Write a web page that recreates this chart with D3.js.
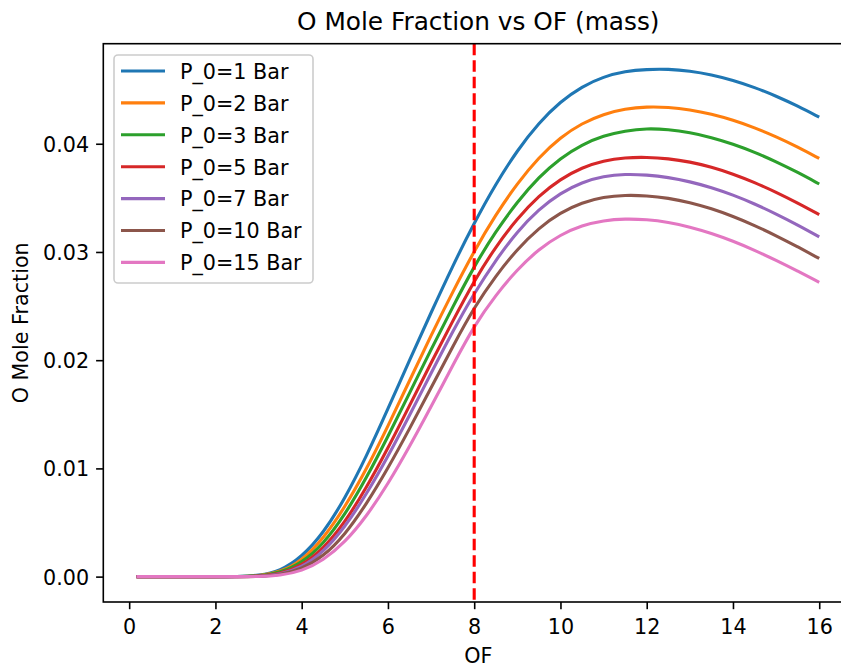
<!DOCTYPE html>
<html>
<head>
<meta charset="utf-8">
<script src="https://cdn.jsdelivr.net/npm/d3@7"></script>
<style>
  html, body { margin: 0; padding: 0; background: #ffffff; }
  svg { display: block; font-family: "DejaVu Sans", sans-serif; }
</style>
</head>
<body>
<div id="chart"></div>
<script>
// ---- data ----
const ofValues = [0.17, 1, 2, 2.5, 3, 3.5, 4, 4.5, 5, 5.5, 6, 6.5, 7, 7.5, 8, 8.5, 9, 9.5, 10, 10.5, 11, 11.5, 12, 12.5, 13, 13.5, 14, 14.5, 15, 15.5, 16];
const seriesNames = ["P_0=1 Bar", "P_0=2 Bar", "P_0=3 Bar", "P_0=5 Bar", "P_0=7 Bar", "P_0=10 Bar", "P_0=15 Bar"];
const p1  = [0, 0, 0, 0, 0.0001, 0.0005, 0.0018, 0.0040, 0.0072, 0.0111, 0.0155, 0.0200, 0.0244, 0.0287, 0.0327, 0.0363, 0.0394, 0.04195, 0.0439, 0.0453, 0.0462, 0.0467, 0.04688, 0.0469, 0.04673, 0.04638, 0.04587, 0.04521, 0.04441, 0.04349, 0.04245];
const p2  = [0, 0, 0, 0, 0.00004, 0.0004, 0.00145, 0.0035, 0.0064, 0.0099, 0.0139, 0.0181, 0.0223, 0.0263, 0.0301, 0.03345, 0.03635, 0.03875, 0.0406, 0.0419, 0.04275, 0.04323, 0.04343, 0.04338, 0.04315, 0.04275, 0.04219, 0.04149, 0.04066, 0.03971, 0.03864];
const p3  = [0, 0, 0, 0, 0.00004, 0.00035, 0.00125, 0.0030, 0.0057, 0.0091, 0.01295, 0.01695, 0.0210, 0.0249, 0.0287, 0.0319, 0.03465, 0.03693, 0.03868, 0.03993, 0.04075, 0.0412, 0.04142, 0.04132, 0.04104, 0.04059, 0.03998, 0.03923, 0.03835, 0.03736, 0.03628];
const p5  = [0, 0, 0, 0, 0.00002, 0.00023, 0.00101, 0.00257, 0.0050, 0.0082, 0.01185, 0.0158, 0.01975, 0.0236, 0.02735, 0.0305, 0.0331, 0.0352, 0.03674, 0.03781, 0.03844, 0.03872, 0.03876, 0.03863, 0.03833, 0.03785, 0.03721, 0.03643, 0.03553, 0.03453, 0.03345];
const p7  = [0, 0, 0, 0, 0.00001, 0.00019, 0.00085, 0.00226, 0.00455, 0.0076, 0.0111, 0.0149, 0.0188, 0.02265, 0.0262, 0.02925, 0.0319, 0.03395, 0.03545, 0.03645, 0.037, 0.0372, 0.03712, 0.0369, 0.0365, 0.03596, 0.03527, 0.03445, 0.03352, 0.0325, 0.0314];
const p10 = [0, 0, 0, 0, 0.00001, 0.00014, 0.0007, 0.00185, 0.00385, 0.0067, 0.0100, 0.01365, 0.01745, 0.02125, 0.0249, 0.0278, 0.03027, 0.03223, 0.03364, 0.03457, 0.03508, 0.03526, 0.0352, 0.03498, 0.03458, 0.03401, 0.0333, 0.03246, 0.03151, 0.03048, 0.0294];
const p15 = [0, 0, 0, 0, 0, 0.0001, 0.0005, 0.0015, 0.00315, 0.00555, 0.00855, 0.0120, 0.0157, 0.0195, 0.0232, 0.02602, 0.02839, 0.03027, 0.0316, 0.03246, 0.03292, 0.03307, 0.033, 0.03275, 0.03232, 0.03173, 0.03101, 0.03017, 0.02923, 0.02823, 0.0272];
const seriesValues = [p1, p2, p3, p5, p7, p10, p15];
const colors = ["#1f77b4", "#ff7f0e", "#2ca02c", "#d62728", "#9467bd", "#8c564b", "#e377c2"];
const xTicks = [0, 2, 4, 6, 8, 10, 12, 14, 16];
const yTicks = [0.00, 0.01, 0.02, 0.03, 0.04];
const markerOF = 8;
const titleText = "O Mole Fraction vs OF (mass)";
const xLabel = "OF";
const yLabel = "O Mole Fraction";

// ---- layout ----
const W = 841, H = 666;
const axLeft = 103.3, axRight = 853.3, axTop = 43.7, axBottom = 602;
const fs = 20.7, titleFs = 24.8;

const svg = d3.select("#chart").append("svg").attr("width", W).attr("height", H);
svg.append("rect").attr("width", W).attr("height", H).attr("fill", "#fff");

const x = d3.scaleLinear().domain([-0.6, 16.79]).range([axLeft, axRight]);
const y = d3.scaleLinear().domain([-0.002345, 0.049245]).range([axBottom, axTop]);

svg.append("defs").append("clipPath").attr("id", "clip")
  .append("rect").attr("x", axLeft).attr("y", axTop).attr("width", axRight - axLeft).attr("height", axBottom - axTop);

const plot = svg.append("g").attr("clip-path", "url(#clip)");
const line = d3.line().x((d, i) => x(ofValues[i])).y(d => y(d)).curve(d3.curveBasis);

seriesValues.forEach((vals, k) => {
  plot.append("path").datum(vals)
    .attr("d", line)
    .attr("fill", "none")
    .attr("stroke", colors[k])
    .attr("stroke-width", 3.1)
    .attr("stroke-linejoin", "round")
    .attr("stroke-linecap", "butt");
});

// vertical dashed line
plot.append("line")
  .attr("x1", x(markerOF)).attr("x2", x(markerOF))
  .attr("y1", axTop).attr("y2", axBottom)
  .attr("stroke", "#ff0000").attr("stroke-width", 3.1)
  .attr("stroke-dasharray", "11.5,5");

// axes
const xAxis = d3.axisBottom(x).tickValues(xTicks).tickFormat(d3.format("d")).tickSize(7.2).tickPadding(7);
const yAxis = d3.axisLeft(y).tickValues(yTicks).tickFormat(d3.format(".2f")).tickSize(7.2).tickPadding(7);

const gx = svg.append("g").attr("transform", `translate(0,${axBottom})`).call(xAxis);
const gy = svg.append("g").attr("transform", `translate(${axLeft},0)`).call(yAxis);
[gx, gy].forEach(g => {
  g.select(".domain").remove();
  g.selectAll(".tick line").attr("stroke", "#000").attr("stroke-width", 1.6);
  g.selectAll(".tick text").attr("fill", "#000").style("font-size", fs + "px").style("font-family", "DejaVu Sans");
});
gx.selectAll(".tick text").attr("dy", null).attr("y", 32);
gy.selectAll(".tick text").attr("dy", "0.36em");

// spines
svg.append("rect").attr("x", axLeft).attr("y", axTop).attr("width", axRight - axLeft).attr("height", axBottom - axTop)
  .attr("fill", "none").attr("stroke", "#000").attr("stroke-width", 1.6);

// title & labels
svg.append("text").attr("x", (axLeft + axRight) / 2).attr("y", 29.5)
  .attr("text-anchor", "middle").style("font-size", titleFs + "px").attr("fill", "#000").text(titleText);
svg.append("text").attr("x", (axLeft + axRight) / 2).attr("y", 662.5)
  .attr("text-anchor", "middle").style("font-size", fs + "px").attr("fill", "#000").text(xLabel);
svg.append("text").attr("transform", `translate(27.5,${(axTop + axBottom) / 2}) rotate(-90)`)
  .attr("text-anchor", "middle").style("font-size", fs + "px").attr("fill", "#000").text(yLabel);

// legend
const lg = svg.append("g");
lg.append("rect").attr("x", 114).attr("y", 55).attr("width", 199).attr("height", 228)
  .attr("rx", 4).attr("fill", "#fff").attr("fill-opacity", 0.8)
  .attr("stroke", "#cccccc").attr("stroke-width", 1.6);
seriesNames.forEach((name, k) => {
  const cy = 71 + k * 31.9;
  lg.append("line").attr("x1", 121).attr("x2", 165).attr("y1", cy).attr("y2", cy)
    .attr("stroke", colors[k]).attr("stroke-width", 3.1);
  lg.append("text").attr("x", 180).attr("y", cy + 7.8)
    .style("font-size", fs + "px").attr("fill", "#000").text(name);
});
</script>
</body>
</html>
